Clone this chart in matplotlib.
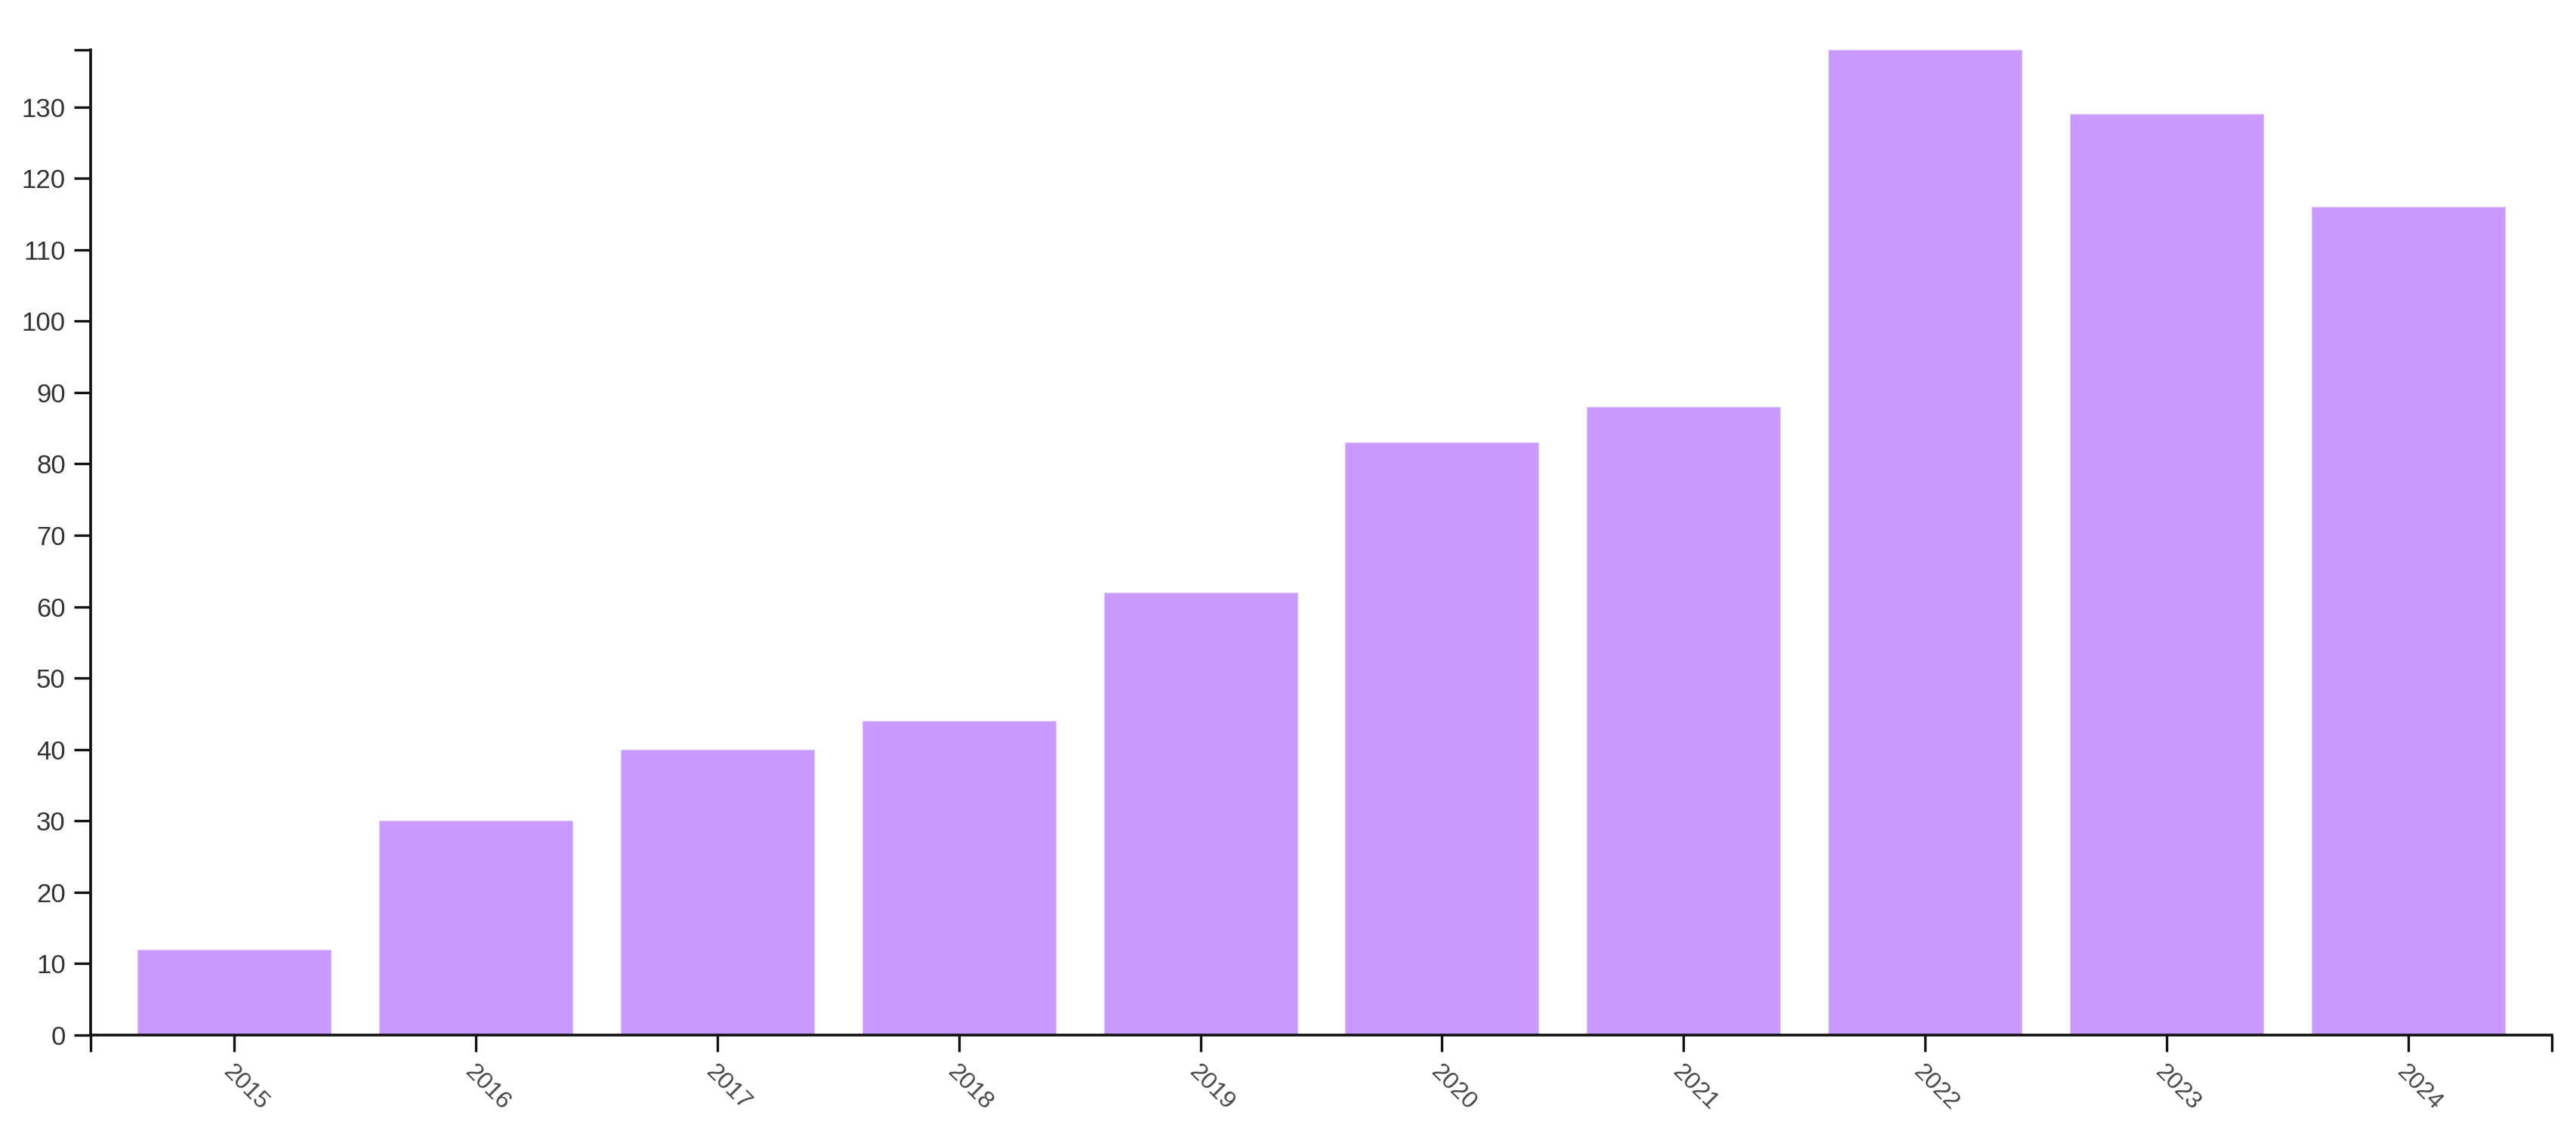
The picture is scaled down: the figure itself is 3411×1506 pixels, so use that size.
import matplotlib.pyplot as plt

# Data
years = ["2015", "2016", "2017", "2018", "2019", "2020", "2021", "2022", "2023", "2024"]
values = [12, 30, 40, 44, 62, 83, 88, 138, 129, 116]
y_ticks = list(range(0, 140, 10))

plt.rcParams["font.family"] = ["Liberation Sans", "DejaVu Sans"]

fig = plt.figure(figsize=(34.12, 15.06), dpi=100)
ax = fig.add_axes([0.0352, 0.0896, 0.9551, 0.8666])

x = list(range(len(years)))
ax.bar(x, values, width=0.8, color="#c99aff", edgecolor="#dcbfff", linewidth=0.8)

pad = 0.595
ax.set_xlim(-pad, len(years) - 1 + pad)
ax.set_ylim(0, max(values))

# category ticks plus outer (domain end) ticks
ax.set_xticks([-pad] + x + [len(years) - 1 + pad])
ax.set_xticklabels([""] + years + [""], rotation=-45, ha="left", va="top",
                   rotation_mode="anchor", fontsize=23, color="#444444")
ax.set_yticks(y_ticks + [max(values)])
ax.set_yticklabels([str(v) for v in y_ticks] + [""], fontsize=25, color="#333333")

for s in ["top", "right"]:
    ax.spines[s].set_visible(False)
for s in ["left", "bottom"]:
    ax.spines[s].set_linewidth(2.6)
    ax.spines[s].set_color("#111111")

ax.tick_params(axis="both", length=16, width=2.4, color="#111111")
ax.tick_params(axis="y", pad=8)
ax.tick_params(axis="x", pad=8)

plt.savefig("out.png", dpi=100)
